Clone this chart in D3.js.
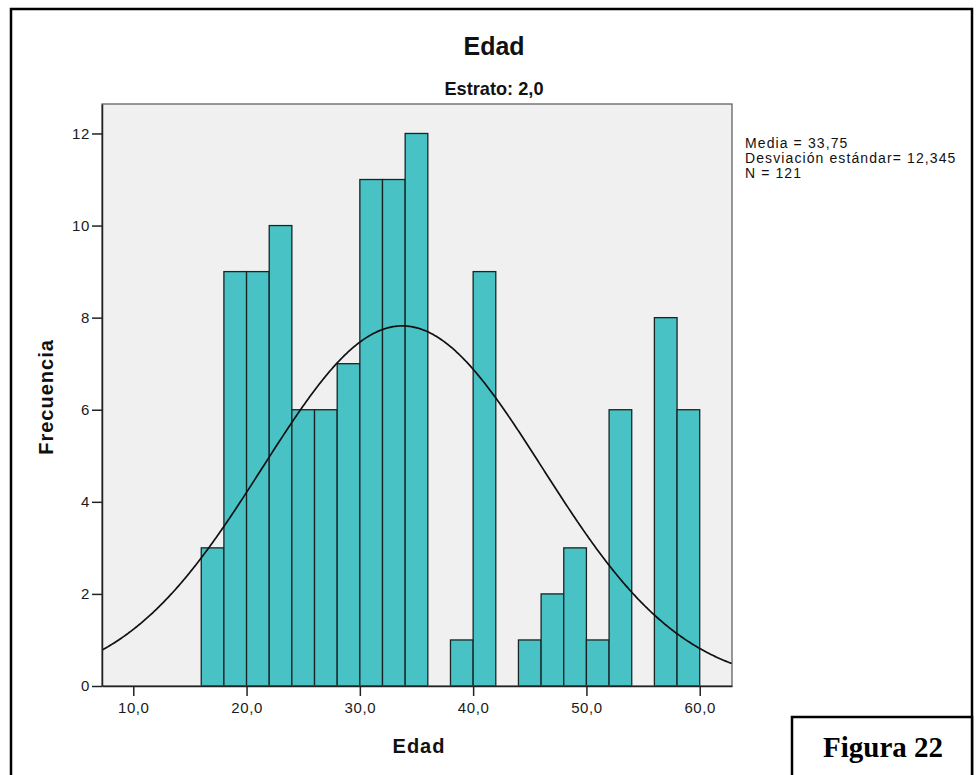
<!DOCTYPE html>
<html><head><meta charset="utf-8">
<script src="https://cdn.jsdelivr.net/npm/d3@7/dist/d3.min.js"></script>
<style>body{margin:0;background:#fff}svg{display:block}</style>
</head><body>
<script>
// ---- data ----
const binStarts   = [16,18,20,22,24,26,28,30,32,34,36,38,40,42,44,46,48,50,52,54,56,58];
const frequencies = [3, 9, 9, 10,6, 6, 7, 11,11,12,0, 1, 9, 0, 1, 2, 3, 1, 6, 0, 8, 6];
const binWidth = 2;
const xTickValues = [10,20,30,40,50,60];
const yTickValues = [0,2,4,6,8,10,12];
const meanValue = 33.75;
const sdValue = 12.345;
const nValue = 121;
const legendLines = ["Media = 33,75", "Desviación estándar= 12,345", "N = 121"];
const titleText = "Edad";
const subtitleText = "Estrato: 2,0";
const xLabel = "Edad";
const yLabel = "Frecuencia";
const figLabel = "Figura 22";

const W = 976, H = 775;
const svg = d3.select("body").append("svg").attr("width", W).attr("height", H);
svg.append("rect").attr("width", W).attr("height", H).attr("fill", "#fff");

const plot = {left: 102, right: 732, top: 104, bottom: 686};
const x = d3.scaleLinear().domain([7.24, 62.85]).range([plot.left, plot.right]);
const y = d3.scaleLinear().domain([0, 12.64]).range([plot.bottom, plot.top]);
const sans = "Liberation Sans, Arial, sans-serif";

// outer frame
svg.append("rect").attr("x", 11).attr("y", 9).attr("width", 961).attr("height", 800)
  .attr("fill", "none").attr("stroke", "#000").attr("stroke-width", 2.5);

// plot background
svg.append("rect").attr("x", plot.left).attr("y", plot.top)
  .attr("width", plot.right - plot.left).attr("height", plot.bottom - plot.top)
  .attr("fill", "#f0f0f0");

svg.append("defs").append("clipPath").attr("id", "clip").append("rect")
  .attr("x", plot.left).attr("y", plot.top)
  .attr("width", plot.right - plot.left).attr("height", plot.bottom - plot.top);

// bars
const bins = binStarts.map((s, i) => ({x0: s, x1: s + binWidth, n: frequencies[i]})).filter(d => d.n > 0);
svg.append("g").selectAll("rect").data(bins).join("rect")
  .attr("x", d => x(d.x0)).attr("width", d => x(d.x1) - x(d.x0))
  .attr("y", d => y(d.n)).attr("height", d => y(0) - y(d.n))
  .attr("fill", "#48c2c5").attr("stroke", "#1a2424").attr("stroke-width", 1.3);

// normal curve
const dom = x.domain();
const pdf = v => nValue * binWidth / (sdValue * Math.sqrt(2 * Math.PI)) * Math.exp(-0.5 * Math.pow((v - meanValue) / sdValue, 2));
const curvePts = d3.range(dom[0], dom[1] + 0.05, 0.1).map(v => [v, pdf(v)]);
svg.append("path").attr("clip-path", "url(#clip)")
  .attr("d", d3.line().x(d => x(d[0])).y(d => y(d[1]))(curvePts))
  .attr("fill", "none").attr("stroke", "#111").attr("stroke-width", 1.7);

// frame
svg.append("rect").attr("x", plot.left).attr("y", plot.top)
  .attr("width", plot.right - plot.left).attr("height", plot.bottom - plot.top)
  .attr("fill", "none").attr("stroke", "#555").attr("stroke-width", 1.2);

// axes
const fmtX = v => d3.format(".1f")(v).replace(".", ",");
const xAxis = svg.append("g").attr("transform", `translate(0,${plot.bottom})`)
  .call(d3.axisBottom(x).tickValues(xTickValues).tickFormat(fmtX).tickSize(10).tickSizeOuter(0));
const yAxis = svg.append("g").attr("transform", `translate(${plot.left},0)`)
  .call(d3.axisLeft(y).tickValues(yTickValues).tickFormat(d3.format("d")).tickSize(10).tickSizeOuter(0));
[xAxis, yAxis].forEach(g => {
  g.select(".domain").attr("stroke", "#222").attr("stroke-width", 1.5);
  g.selectAll(".tick line").attr("stroke", "#222").attr("stroke-width", 1.5);
  g.selectAll("text").attr("fill", "#1a1a1a").style("font-family", sans)
    .style("font-size", "15px").style("letter-spacing", "0.6px");
});
xAxis.selectAll("text").attr("dy", "1.05em").attr("y", 11);
yAxis.selectAll("text").attr("x", -12);

// titles
svg.append("text").attr("x", 494).attr("y", 55).attr("text-anchor", "middle")
  .attr("textLength", 61).attr("lengthAdjust", "spacingAndGlyphs")
  .style("font-family", sans).style("font-size", "26px")
  .style("font-weight", "bold").attr("fill", "#111").text(titleText);
svg.append("text").attr("x", 494).attr("y", 95).attr("text-anchor", "middle")
  .attr("textLength", 99).attr("lengthAdjust", "spacingAndGlyphs")
  .style("font-family", sans).style("font-size", "19px")
  .style("font-weight", "bold").attr("fill", "#111").text(subtitleText);
svg.append("text").attr("x", 419).attr("y", 753).attr("text-anchor", "middle")
  .style("font-family", sans).style("font-size", "20px")
  .style("font-weight", "bold").style("letter-spacing", "1px").attr("fill", "#111").text(xLabel);
svg.append("text").attr("transform", "translate(53,397) rotate(-90)").attr("text-anchor", "middle")
  .style("font-family", sans).style("font-size", "20px")
  .style("font-weight", "bold").style("letter-spacing", "1px").attr("fill", "#111").text(yLabel);

// legend
svg.append("g").selectAll("text").data(legendLines).join("text")
  .attr("x", 745).attr("y", (d, i) => 148 + i * 15)
  .style("font-family", sans).style("font-size", "14px")
  .style("letter-spacing", "1.1px").attr("fill", "#111").text(d => d);

// figure label box
svg.append("rect").attr("x", 792).attr("y", 717).attr("width", 180).attr("height", 90)
  .attr("fill", "#fff").attr("stroke", "#000").attr("stroke-width", 2.5);
svg.append("text").attr("x", 883).attr("y", 757).attr("text-anchor", "middle")
  .style("font-family", "Liberation Serif, Times New Roman, serif").style("font-size", "29px")
  .style("font-weight", "bold").attr("fill", "#000").text(figLabel);
</script>
</body></html>
